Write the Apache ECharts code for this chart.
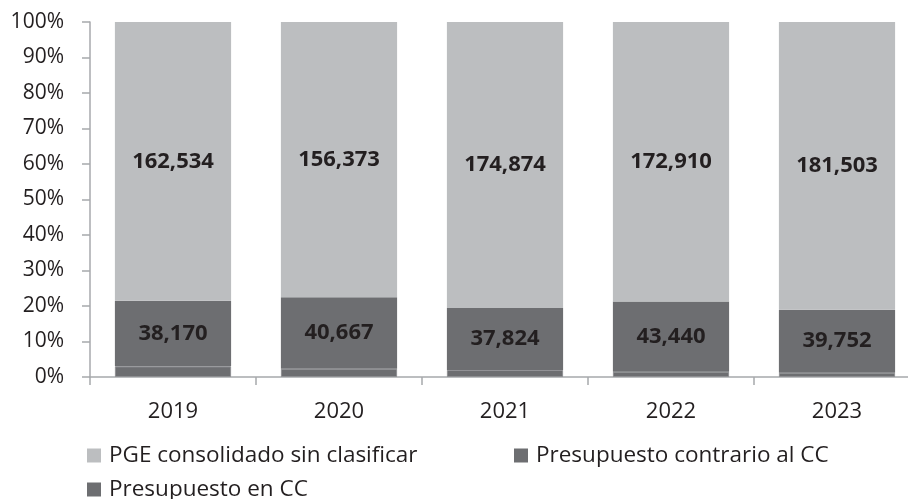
<!DOCTYPE html>
<html>
<head>
<meta charset="utf-8">
<script src="https://cdn.jsdelivr.net/npm/echarts@6/dist/echarts.min.js"></script>
<style>
  html, body { margin: 0; padding: 0; background: #fff; }
  #chart { width: 908px; height: 499px; }
</style>
</head>
<body>
<div id="chart"></div>
<script>
const years = ["2019", "2020", "2021", "2022", "2023"];
// absolute values (bottom segment has no label; estimated from its height)
const enCC = [6200, 4640, 4340, 3300, 2700];
const contrarioCC = [38170, 40667, 37824, 43440, 39752];
const sinClasificar = [162534, 156373, 174874, 172910, 181503];
const yTicks = ["0%", "10%", "20%", "30%", "40%", "50%", "60%", "70%", "80%", "90%", "100%"];

const totals = years.map((y, i) => enCC[i] + contrarioCC[i] + sinClasificar[i]);
const share = (arr) => arr.map((v, i) => ({ value: v / totals[i] * 100, raw: v }));

const font = "'Open Sans', 'Noto Sans', sans-serif";
const fmt = (p) => p.data.raw.toLocaleString("en-US");

const legendCommon = {
  padding: 0,
  icon: "rect",
  itemWidth: 14, itemHeight: 14,
  itemStyle: { borderWidth: 0 },
  textStyle: { fontSize: 22.5, color: "#231f20", fontFamily: font, padding: [0, 0, 0, 3] }
};

const chart = echarts.init(document.getElementById("chart"));

chart.setOption({
  animation: false,
  backgroundColor: "#fff",
  textStyle: { fontFamily: font },
  grid: { left: 90, right: -12, top: 22, bottom: 122, outerBoundsMode: "none" },
  legend: [
    Object.assign({ data: ["PGE consolidado sin clasificar"], left: 87, top: 444 }, legendCommon),
    Object.assign({ data: ["Presupuesto contrario al CC"], left: 514, top: 444 }, legendCommon),
    Object.assign({ data: ["Presupuesto en CC"], left: 87, top: 478 }, legendCommon)
  ],
  xAxis: {
    type: "category",
    data: years,
    axisLine: { lineStyle: { color: "#a7a9ac", width: 1.5 } },
    axisTick: { show: true, length: 8, lineStyle: { color: "#a7a9ac", width: 1.5 } },
    axisLabel: { fontSize: 22, color: "#231f20", margin: 24, fontFamily: font }
  },
  yAxis: {
    type: "value",
    min: 0, max: 100, interval: 10,
    axisLine: { show: true, lineStyle: { color: "#a7a9ac", width: 1.5 } },
    axisTick: { show: true, length: 8, lineStyle: { color: "#a7a9ac", width: 1.5 } },
    splitLine: { show: false },
    axisLabel: {
      fontSize: 21, color: "#231f20", margin: 26, fontFamily: font,
      formatter: (v) => yTicks[Math.round(v / 10)]
    }
  },
  series: [
    {
      name: "Presupuesto en CC",
      type: "bar",
      stack: "t",
      barCategoryGap: "30%",
      data: share(enCC),
      itemStyle: { color: "#6d6e71", borderColor: "#8e8f92", borderWidth: 1 }
    },
    {
      name: "Presupuesto contrario al CC",
      type: "bar",
      stack: "t",
      data: share(contrarioCC),
      itemStyle: { color: "#6d6e71" },
      label: {
        show: true, position: "inside", formatter: fmt,
        fontSize: 22, fontWeight: "bold", color: "#231f20", fontFamily: font
      }
    },
    {
      name: "PGE consolidado sin clasificar",
      type: "bar",
      stack: "t",
      data: share(sinClasificar),
      itemStyle: { color: "#bcbec0" },
      label: {
        show: true, position: "inside", formatter: fmt,
        fontSize: 22, fontWeight: "bold", color: "#231f20", fontFamily: font
      }
    }
  ]
});
</script>
</body>
</html>
